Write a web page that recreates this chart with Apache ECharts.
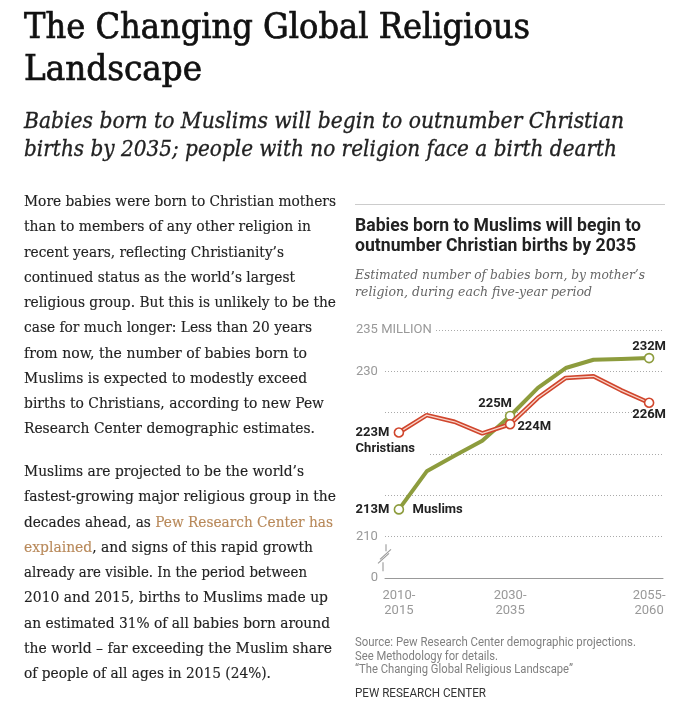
<!DOCTYPE html>
<html><head><meta charset="utf-8">
<script src="https://cdn.jsdelivr.net/npm/echarts@6/dist/echarts.min.js"></script>
<style>
html,body{margin:0;padding:0;background:#fff;width:695px;height:705px;overflow:hidden;}
#chart{position:absolute;left:0;top:0;width:695px;height:705px;}
.t{position:absolute;white-space:nowrap;transform-origin:0 50%;z-index:2;}
.title{left:24px;font-family:'DejaVu Serif';font-stretch:condensed;font-size:36px;line-height:40px;color:#111;-webkit-text-stroke:0.7px #111;}
.sub{left:24px;font-family:'DejaVu Serif';font-style:italic;font-stretch:condensed;font-size:22.5px;line-height:28px;color:#222;-webkit-text-stroke:0.3px #222;}
.body{left:24px;font-family:'DejaVu Serif';font-size:15.5px;line-height:20px;color:#222;-webkit-text-stroke:0.15px #222;}
.link{color:#b8895a;-webkit-text-stroke:0.15px #b8895a;}
.ctitle{left:355px;font-family:Roboto;font-weight:bold;font-size:17.5px;line-height:20px;color:#222;}
.csub{left:355px;font-family:'DejaVu Serif';font-style:italic;font-size:13.5px;line-height:17px;color:#666;}
.src{left:355px;font-family:Roboto;font-size:12.5px;line-height:14px;color:#808080;}
.pew{left:355px;font-family:Roboto;font-size:12.5px;line-height:14px;color:#333;}
#rule{position:absolute;left:355px;top:204px;width:310px;height:1px;background:#ccc;z-index:2;}
</style></head>
<body>
<div id="chart"></div>
<div class="t title" style="top:6px" data-w="506">The Changing Global Religious</div>
<div class="t title" style="top:48px" data-w="178">Landscape</div>
<div class="t sub" style="top:106px" data-w="600">Babies born to Muslims will begin to outnumber Christian</div>
<div class="t sub" style="top:134px" data-w="593">births by 2035; people with no religion face a birth dearth</div>

<div class="t body" style="top:191px" data-w="312">More babies were born to Christian mothers</div>
<div class="t body" style="top:216px" data-w="287">than to members of any other religion in</div>
<div class="t body" style="top:242px" data-w="260">recent years, reflecting Christianity’s</div>
<div class="t body" style="top:267px" data-w="271">continued status as the world’s largest</div>
<div class="t body" style="top:292px" data-w="312">religious group. But this is unlikely to be the</div>
<div class="t body" style="top:317px" data-w="288">case for much longer: Less than 20 years</div>
<div class="t body" style="top:343px" data-w="283">from now, the number of babies born to</div>
<div class="t body" style="top:368px" data-w="283">Muslims is expected to modestly exceed</div>
<div class="t body" style="top:393px" data-w="300">births to Christians, according to new Pew</div>
<div class="t body" style="top:418px" data-w="291">Research Center demographic estimates.</div>

<div class="t body" style="top:461px" data-w="280">Muslims are projected to be the world’s</div>
<div class="t body" style="top:486px" data-w="312">fastest-growing major religious group in the</div>
<div class="t body" style="top:512px" data-w="309">decades ahead, as <span class="link">Pew Research Center has</span></div>
<div class="t body" style="top:537px" data-w="289"><span class="link">explained</span>, and signs of this rapid growth</div>
<div class="t body" style="top:562px" data-w="283">already are visible. In the period between</div>
<div class="t body" style="top:587px" data-w="304">2010 and 2015, births to Muslims made up</div>
<div class="t body" style="top:613px" data-w="306">an estimated 31% of all babies born around</div>
<div class="t body" style="top:638px" data-w="308">the world – far exceeding the Muslim share</div>
<div class="t body" style="top:663px" data-w="247">of people of all ages in 2015 (24%).</div>

<div id="rule"></div>
<div class="t ctitle" style="top:215px" data-w="286">Babies born to Muslims will begin to</div>
<div class="t ctitle" style="top:235px" data-w="281">outnumber Christian births by 2035</div>
<div class="t csub" style="top:266px" data-w="290">Estimated number of babies born, by mother’s</div>
<div class="t csub" style="top:283px" data-w="237">religion, during each five-year period</div>

<div class="t src" style="top:635px" data-w="281">Source: Pew Research Center demographic projections.</div>
<div class="t src" style="top:649px" data-w="143">See Methodology for details.</div>
<div class="t src" style="top:662px" data-w="218">“The Changing Global Religious Landscape”</div>
<div class="t pew" style="top:686px" data-w="131">PEW RESEARCH CENTER</div>

<script>
// ---- data ----
const periods = ['2010-2015','2015-2020','2020-2025','2025-2030','2030-2035','2035-2040','2040-2045','2045-2050','2050-2055','2055-2060'];
const xTickLabels = ['2010-\n2015','','','','2030-\n2035','','','','','2055-\n2060'];
const christians = [222.6, 224.7, 223.9, 222.5, 223.6, 226.8, 229.2, 229.4, 227.7, 226.2];
const muslims = [213.3, 217.9, 219.8, 221.6, 224.6, 228.0, 230.4, 231.4, 231.5, 231.6];
const christianLabels = ['223M','','','','224M','','','','','226M'];
const muslimLabels = ['213M','','','','225M','','','','','232M'];
const yTickValues = [205, 210, 215, 220, 225, 230, 235];
const yTickLabels = ['0', '210', '', '', '', '230', '235 MILLION'];

// ---- styles ----
const RED = '#d0462d', RED_IN = '#f8d3c8', GREEN = '#8d9c3d';
const lblFont = {fontFamily: 'Roboto', fontWeight: 'bold', fontSize: 13, color: '#222'};
const christianLabelPos = {
  0: {position: 'left', distance: 38, align: 'left', verticalAlign: 'top', offset: [0, -8],
      formatter: p => '{v|' + christianLabels[p.dataIndex] + '}\n{n|Christians}',
      rich: {v: Object.assign({lineHeight: 16}, lblFont), n: Object.assign({lineHeight: 16, backgroundColor: '#fff', padding: [0, 14, 0, 0]}, lblFont)}},
  4: {position: 'right', distance: 2, offset: [0, 3]},
  9: {position: 'bottom', distance: 0}
};
const muslimLabelPos = {
  0: {position: 'left', distance: 38, align: 'left', verticalAlign: 'middle',
      formatter: p => '{v|' + muslimLabels[p.dataIndex] + '}{n|Muslims}',
      rich: {v: Object.assign({width: 57}, lblFont), n: Object.assign({}, lblFont)}},
  4: {position: 'top', distance: 0, offset: [-15, 0]},
  9: {position: 'top', distance: 0}
};

function buildData(values, labels, posMap, color) {
  return values.map((v, i) => {
    if (!labels[i]) return {value: v, symbol: 'none'};
    return {
      value: v, symbol: 'circle', symbolSize: 9,
      itemStyle: {color: '#fff', borderColor: color, borderWidth: 1.6},
      label: Object.assign({show: true, formatter: labels[i]}, lblFont, posMap[i])
    };
  });
}

const chart = echarts.init(document.getElementById('chart'), null, {renderer: 'canvas'});
chart.setOption({
  animation: false,
  backgroundColor: '#fff',
  grid: {left: 385, right: 32, top: 330, bottom: 127},
  xAxis: {
    type: 'category', data: periods, boundaryGap: true,
    axisLine: {lineStyle: {color: '#999', width: 1}},
    axisTick: {alignWithLabel: true, interval: 0, length: 6, lineStyle: {color: '#999'}},
    axisLabel: {interval: 0, formatter: (v, i) => xTickLabels[i], color: '#999', fontFamily: 'Roboto', fontSize: 13, lineHeight: 15, margin: 10},
    splitLine: {show: false}
  },
  yAxis: {
    type: 'value', min: 205, max: 235, interval: 5,
    axisLine: {show: false}, axisTick: {show: false},
    splitLine: {lineStyle: {color: '#aaa', type: [1, 2], width: 1}},
    axisLabel: {
      align: 'left', margin: 29, color: '#999', fontFamily: 'Roboto', fontSize: 13,
      formatter: v => {
        const s = yTickLabels[yTickValues.indexOf(v)] || '';
        if (v === yTickValues[0]) return '{z|' + s + '}';
        if (v === yTickValues[yTickValues.length - 1]) return '{m|' + s + '}';
        return s;
      },
      rich: {
        z: {width: 22, align: 'right', color: '#999', fontFamily: 'Roboto', fontSize: 13},
        m: {backgroundColor: '#fff', padding: [2, 4, 2, 0], color: '#999', fontFamily: 'Roboto', fontSize: 13}
      }
    }
  },
  series: [
    {name: 'Muslims', type: 'line', showAllSymbol: true, z: 2,
     lineStyle: {color: GREEN, width: 4}, itemStyle: {color: GREEN},
     emphasis: {disabled: true},
     data: buildData(muslims, muslimLabels, muslimLabelPos, GREEN)},
    {name: 'Christians', type: 'line', symbol: 'none', z: 3, silent: true,
     lineStyle: {color: RED, width: 4.5}, emphasis: {disabled: true},
     data: christians},
    {name: 'Christians ', type: 'line', showAllSymbol: true, z: 4,
     lineStyle: {color: RED_IN, width: 1.3}, itemStyle: {color: RED},
     emphasis: {disabled: true},
     data: buildData(christians, christianLabels, christianLabelPos, RED)}
  ]
});

// axis break symbol
(function () {
  const x = chart.convertToPixel({gridIndex: 0}, [0, 207.5])[0] - (chart.convertToPixel({xAxisIndex: 0}, 1) - chart.convertToPixel({xAxisIndex: 0}, 0)) / 2;
  const y = chart.convertToPixel({yAxisIndex: 0}, 207.5);
  const st = {stroke: '#999', lineWidth: 1.1};
  chart.setOption({graphic: [
    {type: 'line', shape: {x1: x + 1, y1: y - 13, x2: x + 1, y2: y - 6}, style: st, silent: true},
    {type: 'line', shape: {x1: x - 5, y1: y + 2, x2: x + 6, y2: y - 8}, style: st, silent: true},
    {type: 'line', shape: {x1: x - 7, y1: y + 6, x2: x + 4, y2: y - 4}, style: st, silent: true},
    {type: 'line', shape: {x1: x - 2, y1: y + 5, x2: x - 2, y2: y + 14}, style: st, silent: true}
  ]});
})();

function fit() {
  document.querySelectorAll('[data-w]').forEach(el => {
    el.style.transform = 'none';
    const w = el.getBoundingClientRect().width;
    const target = parseFloat(el.getAttribute('data-w'));
    if (w > 0) el.style.transform = 'scaleX(' + (target / w).toFixed(4) + ')';
  });
}
fit();
if (document.fonts && document.fonts.ready) document.fonts.ready.then(fit);
</script>
</body></html>
